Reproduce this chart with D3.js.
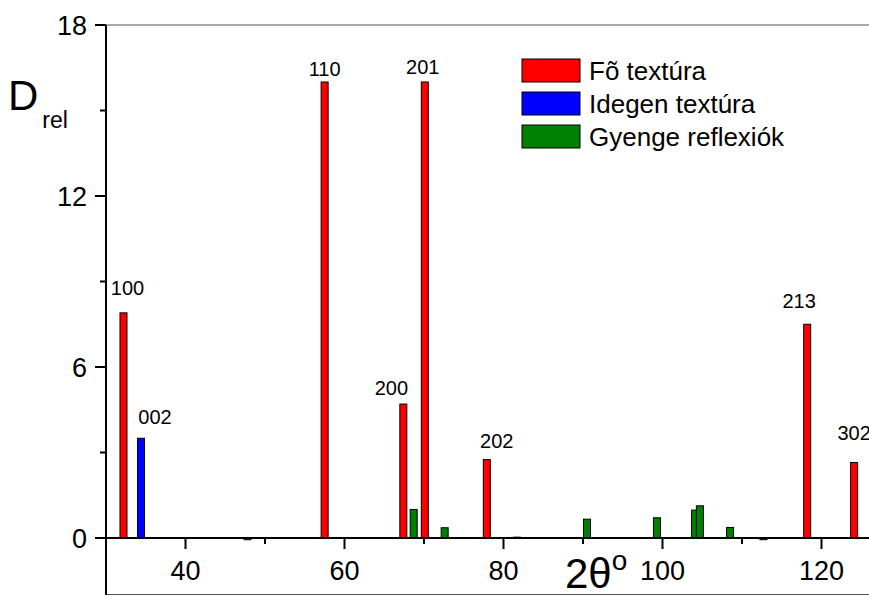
<!DOCTYPE html>
<html><head><meta charset="utf-8">
<script src="https://cdn.jsdelivr.net/npm/d3@7/dist/d3.min.js"></script>
<style>body{margin:0;background:#fff}svg{display:block;font-family:"Liberation Sans",Arial,sans-serif}</style>
</head><body><svg id="c" width="869" height="596"></svg>
<script>
// ---- data ----
const foTheta = [32.2, 57.5, 67.4, 70.1, 77.9, 118.2, 124.1];
const foValues = [7.9, 16.0, 4.7, 16.0, 2.75, 7.5, 2.65];
const foLabels = ["100", "110", "200", "201", "202", "213", "302"];
const idegenTheta = [34.4];
const idegenValues = [3.5];
const idegenLabels = ["002"];
const gyengeTheta = [47.8, 68.7, 72.6, 81.7, 90.5, 99.3, 104.1, 104.7, 108.5, 112.7];
const gyengeValues = [-0.06, 1.0, 0.36, 0.03, 0.66, 0.71, 0.98, 1.13, 0.37, -0.06];
const seriesNames = ["Fõ textúra", "Idegen textúra", "Gyenge reflexiók"];
const xTicks = [40, 60, 80, 100, 120];
const xMinor = [50, 70, 90, 110];
const yTicks = [0, 6, 12, 18];
const yMinor = [3, 9, 15];

// ---- styling ----
const colors = ["#ff0000", "#0000ff", "#008000"];
const labelOffsets = { "100": [4, -18], "002": [14, -14], "110": [0, -6], "201": [-2, -8],
  "200": [-12, -9], "202": [10, -12], "213": [-8, -16], "302": [0, -22] };

const svg = d3.select("#c");
const x = d3.scaleLinear().domain([30, 130]).range([106, 901]);
const y = d3.scaleLinear().domain([-2, 18]).range([595, 25]);
const halfW = 0.44;

// frame
svg.append("line").attr("x1", 106).attr("x2", 869).attr("y1", y(18)).attr("y2", y(18)).attr("stroke", "#555").attr("stroke-width", 1.2);
svg.append("line").attr("x1", 106).attr("x2", 869).attr("y1", y(-2) - 0.5).attr("y2", y(-2) - 0.5).attr("stroke", "#555").attr("stroke-width", 1.2);

// bars
const bars = [];
foTheta.forEach((t, i) => bars.push({ t, v: foValues[i], s: 0, label: foLabels[i] }));
idegenTheta.forEach((t, i) => bars.push({ t, v: idegenValues[i], s: 1, label: idegenLabels[i] }));
gyengeTheta.forEach((t, i) => bars.push({ t, v: gyengeValues[i], s: 2 }));

svg.append("g").selectAll("rect").data(bars).join("rect")
  .attr("x", d => x(d.t - halfW))
  .attr("width", d => x(d.t + halfW) - x(d.t - halfW))
  .attr("y", d => Math.min(y(d.v), y(0)))
  .attr("height", d => Math.max(Math.abs(y(d.v) - y(0)), 1))
  .attr("fill", d => colors[d.s])
  .attr("stroke", "#000").attr("stroke-width", 1);

// bar labels
svg.append("g").selectAll("text").data(bars.filter(d => d.label)).join("text")
  .attr("x", d => x(d.t) + labelOffsets[d.label][0])
  .attr("y", d => y(d.v) + labelOffsets[d.label][1])
  .attr("text-anchor", "middle").attr("font-size", 20).text(d => d.label);

// x axis at y=0
const xAxis = svg.append("g").attr("transform", `translate(0,${y(0)})`);
xAxis.append("line").attr("x1", 106).attr("x2", 869).attr("stroke", "#000").attr("stroke-width", 2);
xAxis.selectAll(".maj").data(xTicks).join("line").attr("x1", d => x(d)).attr("x2", d => x(d))
  .attr("y1", 0).attr("y2", 11).attr("stroke", "#000").attr("stroke-width", 2);
xAxis.selectAll(".min").data(xMinor).join("line").attr("class", "min").attr("x1", d => x(d)).attr("x2", d => x(d))
  .attr("y1", 0).attr("y2", 6).attr("stroke", "#000").attr("stroke-width", 2);
xAxis.selectAll("text").data(xTicks).join("text").attr("x", d => x(d)).attr("y", 42)
  .attr("text-anchor", "middle").attr("font-size", 27).text(d => d);

// y axis
const yAxis = svg.append("g").attr("transform", "translate(106,0)");
yAxis.append("line").attr("y1", y(18)).attr("y2", y(-2)).attr("stroke", "#000").attr("stroke-width", 2);
yAxis.selectAll(".maj").data(yTicks).join("line").attr("class", "maj").attr("y1", d => y(d)).attr("y2", d => y(d))
  .attr("x1", 0).attr("x2", -11).attr("stroke", "#000").attr("stroke-width", 2);
yAxis.selectAll(".min").data(yMinor).join("line").attr("class", "min").attr("y1", d => y(d)).attr("y2", d => y(d))
  .attr("x1", 0).attr("x2", -6).attr("stroke", "#000").attr("stroke-width", 2);
yAxis.selectAll("text").data(yTicks).join("text").attr("x", -19).attr("y", d => y(d)).attr("dy", "0.36em")
  .attr("text-anchor", "end").attr("font-size", 27).text(d => d);

// axis titles
const yt = svg.append("text").attr("x", 8).attr("y", 110).attr("font-size", 42);
yt.append("tspan").text("D");
yt.append("tspan").attr("font-size", 23).attr("dx", 4).attr("dy", 18).text("rel");
const xt = svg.append("text").attr("x", 565).attr("y", 588).attr("font-size", 42);
xt.append("tspan").text("2θ");
xt.append("tspan").attr("font-size", 28).attr("dy", -18).text("o");

// legend
const lg = svg.append("g").attr("transform", "translate(522,59)");
seriesNames.forEach((n, i) => {
  lg.append("rect").attr("x", 0).attr("y", i * 33).attr("width", 58).attr("height", 23)
    .attr("fill", colors[i]).attr("stroke", "#000").attr("stroke-width", 1);
  lg.append("text").attr("x", 67).attr("y", i * 33 + 11.5).attr("dy", "0.36em").attr("font-size", 26).text(n);
});
</script></body></html>
